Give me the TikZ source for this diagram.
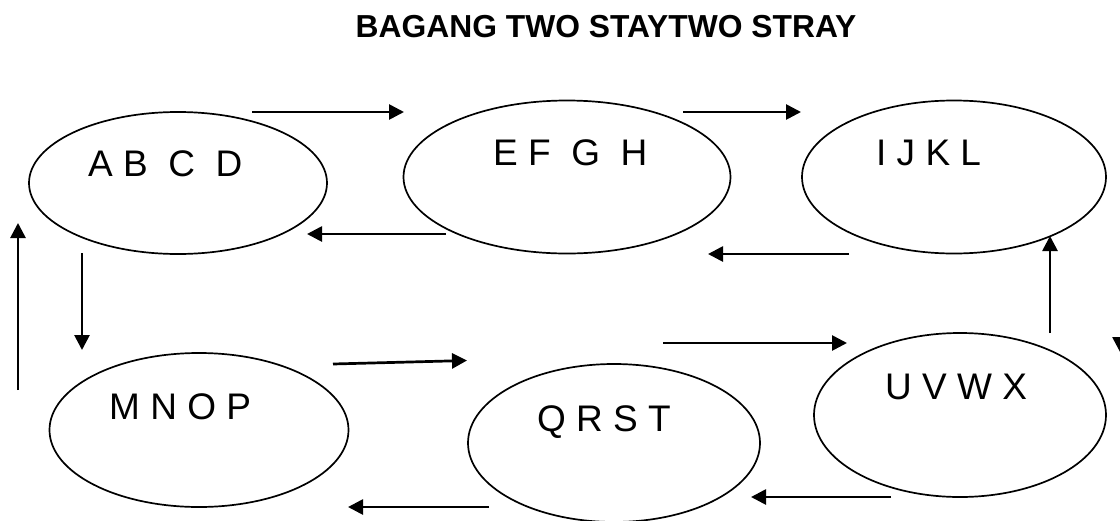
\documentclass[tikz,border=0pt]{standalone}
\usepackage{fontspec}
\setmainfont{Liberation Sans}
\usetikzlibrary{arrows.meta,shapes.geometric}
\begin{document}
\begin{tikzpicture}[x=1pt,y=-1pt,
  oval/.style={draw, ellipse, line width=1.7pt, inner sep=0pt},
  lbl/.style={anchor=base west, inner sep=0pt, font=\fontsize{37}{40}\selectfont},
  flow/.style={line width=2.7pt, -{Triangle[length=15pt,width=15pt]}},
]
\useasboundingbox (0,0) rectangle (1120,520);
\clip (0,0) rectangle (1120,520);

% title
\node[anchor=base, inner sep=0pt, font=\fontsize{31.8}{36}\selectfont\bfseries] (title) at (606,37) {BAGANG TWO STAYTWO STRAY};

% groups
\node[oval, minimum width=298pt, minimum height=142pt] (A) at (178,183) {};
\node[oval, minimum width=327pt, minimum height=153pt] (E) at (567,177) {};
\node[oval, minimum width=304pt, minimum height=153pt] (I) at (954,177) {};
\node[oval, minimum width=299pt, minimum height=154pt] (M) at (199,430) {};
\node[oval, minimum width=292pt, minimum height=158pt] (Q) at (614,443) {};
\node[oval, minimum width=292pt, minimum height=164pt] (U) at (960,415) {};

% member labels
\node[lbl] (tA) at (88,176.5) {A B~ C~ D};
\node[lbl] (tE) at (493,165)  {E F~ G~ H};
\node[lbl] (tI) at (876,165)  {I J K L};
\node[lbl] (tM) at (109,419)  {M N O P};
\node[lbl] (tQ) at (537,431)  {Q R S T};
\node[lbl] (tU) at (885,399)  {U V W X};

% arrow end points
\coordinate (ae0) at (252,112);  \coordinate (ae1) at (404,112);
\coordinate (ea0) at (446,234);  \coordinate (ea1) at (307,234);
\coordinate (ei0) at (683,112);  \coordinate (ei1) at (801,112);
\coordinate (ie0) at (849,254);  \coordinate (ie1) at (708,254);
\coordinate (ma0) at (18,390);   \coordinate (ma1) at (18,223);
\coordinate (am0) at (82,253);   \coordinate (am1) at (82,350);
\coordinate (mq0) at (333,364);  \coordinate (mq1) at (467,360.5);
\coordinate (qu0) at (663,343);  \coordinate (qu1) at (847,343);
\coordinate (qm0) at (489,507);  \coordinate (qm1) at (348,507);
\coordinate (uq0) at (891,497);  \coordinate (uq1) at (751,497);
\coordinate (ui0) at (1050,333); \coordinate (ui1) at (1050,236);
\coordinate (rx0) at (1120,300); \coordinate (rx1) at (1120,352);

\draw[flow] (ae0) -- (ae1);
\draw[flow] (ea0) -- (ea1);
\draw[flow] (ei0) -- (ei1);
\draw[flow] (ie0) -- (ie1);
\draw[flow] (ma0) -- (ma1);
\draw[flow] (am0) -- (am1);
\draw[flow] (mq0) -- (mq1);
\draw[flow] (qu0) -- (qu1);
\draw[flow] (qm0) -- (qm1);
\draw[flow] (uq0) -- (uq1);
\draw[flow] (ui0) -- (ui1);
\draw[flow, shorten <=40pt] (rx0) -- (rx1);
\end{tikzpicture}
\end{document}
